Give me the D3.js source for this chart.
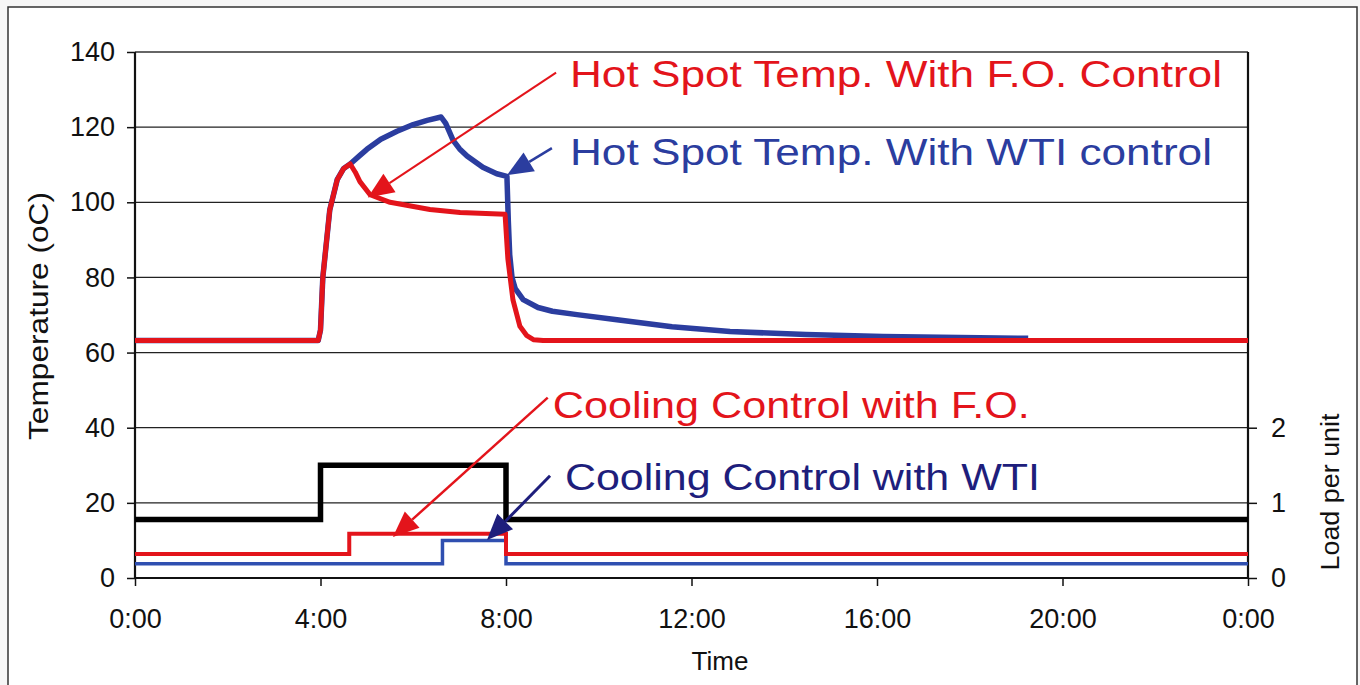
<!DOCTYPE html>
<html><head><meta charset="utf-8">
<script src="https://cdn.jsdelivr.net/npm/d3@7"></script>
<style>
html,body{margin:0;padding:0;background:#f6f6f6;}
svg{display:block;}
text{font-family:"Liberation Sans",Arial,sans-serif;}
</style></head>
<body>
<svg id="c" width="1360" height="685"></svg>
<script>
// ---- data (time in hours) ----
const tempTicks = [0,20,40,60,80,100,120,140];
const loadTicks = [0,1,2];
const timeTicks = [0,4,8,12,16,20,24];
const timeTickLabels = ["0:00","4:00","8:00","12:00","16:00","20:00","0:00"];

// Hot spot temperature with F.O. control (red)
const hsFOTime = [0,3.95,4.0,4.05,4.2,4.36,4.5,4.64,4.75,4.85,5.07,5.5,6.36,7.01,7.98,8.04,8.15,8.3,8.45,8.6,8.8,24];
const hsFOTemp = [63.2,63.2,66,80,98,106,109,110.2,108,105.5,102,100,98.1,97.3,96.8,85,74,67,64.5,63.4,63.2,63.2];

// Hot spot temperature with WTI control (blue)
const hsWTITime = [0,3.95,4.0,4.05,4.2,4.36,4.5,4.64,4.85,5.0,5.3,5.65,6.0,6.3,6.6,6.7,6.86,7.0,7.16,7.5,7.8,8.02,8.05,8.08,8.13,8.2,8.37,8.69,9.0,9.53,10.35,11.58,12.83,14.47,16.13,19.26];
const hsWTITemp = [63.2,63.2,66,80,98,106,109,110.2,112.5,114.1,116.8,118.9,120.7,121.8,122.7,121,116.5,114.2,112.3,109.3,107.6,106.9,95,86,80,77,74.1,72,71,70.1,68.8,66.9,65.6,64.8,64.3,63.8];

// Load per unit (black), step series
const loadTime = [0,4,8,24];
const loadVal  = [0.78,1.5,0.78,0.78];

// Cooling control with F.O. (red), step series (load units)
const coolFOTime = [0,4.62,8,24];
const coolFOVal  = [0.32,0.59,0.32,0.32];

// Cooling control with WTI (blue), step series
const coolWTITime = [0,6.63,8,24];
const coolWTIVal  = [0.19,0.50,0.19,0.19];

// annotations: text, anchor (t, temp), arrow from -> to (t, temp)
const annotText  = ["Hot Spot Temp. With F.O. Control","Hot Spot Temp. With WTI control","Cooling Control with F.O.","Cooling Control with WTI"];
const annotPos   = [[9.38,130.7],[9.38,109.8],[9.01,42.7],[9.27,23.3]];
const annotArrow = [[[9.08,134.5],[5.02,101.3]],[[8.99,114.4],[8.02,107.2]],[[8.9,48],[5.56,10.9]],[[8.95,27.2],[7.59,10.1]]];

// ---- drawing ----
const RED="#e3141b", BLUE="#2b3d9f", NAVY="#1e1e7c", CBLUE="#2f4fb0";
const svg = d3.select("#c");
const L=135, R=1248, T=52, B=578;
const x = d3.scaleLinear().domain([0,24]).range([L,R]);
const y = d3.scaleLinear().domain([0,140]).range([B,T]);
const yr = d3.scaleLinear().domain([0,7]).range([B,T]);

// frame
svg.append("rect").attr("x",8).attr("y",7).attr("width",1349).attr("height",690)
  .attr("fill","#fff").attr("stroke","#333").attr("stroke-width",1.5);

// gridlines
svg.append("g").selectAll("line").data(tempTicks).join("line")
  .attr("x1",L).attr("x2",R).attr("y1",d=>y(d)).attr("y2",d=>y(d))
  .attr("stroke",d=>d===140?"#666":"#222").attr("stroke-width",d=>d===140?2:1.3);

// axes
const axL = svg.append("g").attr("transform",`translate(${L},0)`)
  .call(d3.axisLeft(y).tickValues(tempTicks).tickSize(8).tickPadding(12).tickFormat(d3.format("d")));
const axR = svg.append("g").attr("transform",`translate(${R},0)`)
  .call(d3.axisRight(yr).tickValues(loadTicks).tickSize(9).tickPadding(14).tickFormat(d3.format("d")));
const axB = svg.append("g").attr("transform",`translate(0,${B})`)
  .call(d3.axisBottom(x).tickValues(timeTicks).tickSize(8).tickPadding(18).tickFormat((d,i)=>timeTickLabels[i]));
[axL,axR,axB].forEach(a=>{
  a.select(".domain").attr("stroke","#111").attr("stroke-width",2.2);
  a.selectAll(".tick line").attr("stroke","#111").attr("stroke-width",1.5);
  a.selectAll("text").attr("font-size",27).attr("fill","#111").style("font-family","'Liberation Sans',Arial,sans-serif");
});
axR.select(".domain").attr("d",`M0,${B}V${T}`);
axL.select(".domain").attr("d",`M0,${B}V${T}`);
axB.select(".domain").attr("d",`M${L},0H${R}`);
axB.selectAll("text").attr("dy","0.9em");

// axis titles
svg.append("text").attr("transform","translate(48,316) rotate(-90)").attr("text-anchor","middle")
  .attr("font-size",27).attr("fill","#111").attr("textLength",248).attr("lengthAdjust","spacingAndGlyphs").text("Temperature (oC)");
svg.append("text").attr("transform","translate(1339,492) rotate(-90)").attr("text-anchor","middle")
  .attr("font-size",26).attr("fill","#111").attr("textLength",157).attr("lengthAdjust","spacingAndGlyphs").text("Load per unit");
svg.append("text").attr("x",720).attr("y",670).attr("text-anchor","middle")
  .attr("font-size",26).attr("fill","#111").text("Time");

// lines
const line = d3.line().x(d=>x(d[0])).y(d=>y(d[1]));
const stepLine = d3.line().curve(d3.curveStepAfter).x(d=>x(d[0])).y(d=>yr(d[1]));
const zip=(a,b)=>a.map((v,i)=>[v,b[i]]);

svg.append("path").datum(zip(coolWTITime,coolWTIVal)).attr("d",stepLine)
  .attr("fill","none").attr("stroke",CBLUE).attr("stroke-width",3.5);
svg.append("path").datum(zip(coolFOTime,coolFOVal)).attr("d",stepLine)
  .attr("fill","none").attr("stroke",RED).attr("stroke-width",4);
svg.append("path").datum(zip(loadTime,loadVal)).attr("d",stepLine)
  .attr("fill","none").attr("stroke","#000").attr("stroke-width",5.5);
svg.append("path").datum(zip(hsWTITime,hsWTITemp)).attr("d",line)
  .attr("fill","none").attr("stroke",BLUE).attr("stroke-width",5.5).attr("stroke-linejoin","round");
svg.append("path").datum(zip(hsFOTime,hsFOTemp)).attr("d",line)
  .attr("fill","none").attr("stroke",RED).attr("stroke-width",5).attr("stroke-linejoin","round");

// annotations
const annColors=[RED,BLUE,RED,NAVY];
const annLen=[652,642,477,475];
const annW=[2,2.5,2.5,3];
annotText.forEach((t,i)=>{
  const [a,b]=annotArrow[i];
  const x1=x(a[0]),y1=y(a[1]),x2=x(b[0]),y2=y(b[1]);
  const ang=Math.atan2(y2-y1,x2-x1), hl=26, hw=11;
  const bx=x2-hl*Math.cos(ang), by=y2-hl*Math.sin(ang);
  svg.append("line").attr("x1",x1).attr("y1",y1).attr("x2",bx).attr("y2",by)
    .attr("stroke",annColors[i]).attr("stroke-width",annW[i]);
  const px=-Math.sin(ang), py=Math.cos(ang);
  svg.append("path").attr("d",`M${x2},${y2}L${bx+px*hw},${by+py*hw}L${bx-px*hw},${by-py*hw}Z`)
    .attr("fill",annColors[i]);
  svg.append("text").attr("x",x(annotPos[i][0])).attr("y",y(annotPos[i][1]))
    .attr("font-size",36).attr("fill",annColors[i])
    .attr("textLength",annLen[i]).attr("lengthAdjust","spacingAndGlyphs").text(t);
});
</script>
</body></html>
